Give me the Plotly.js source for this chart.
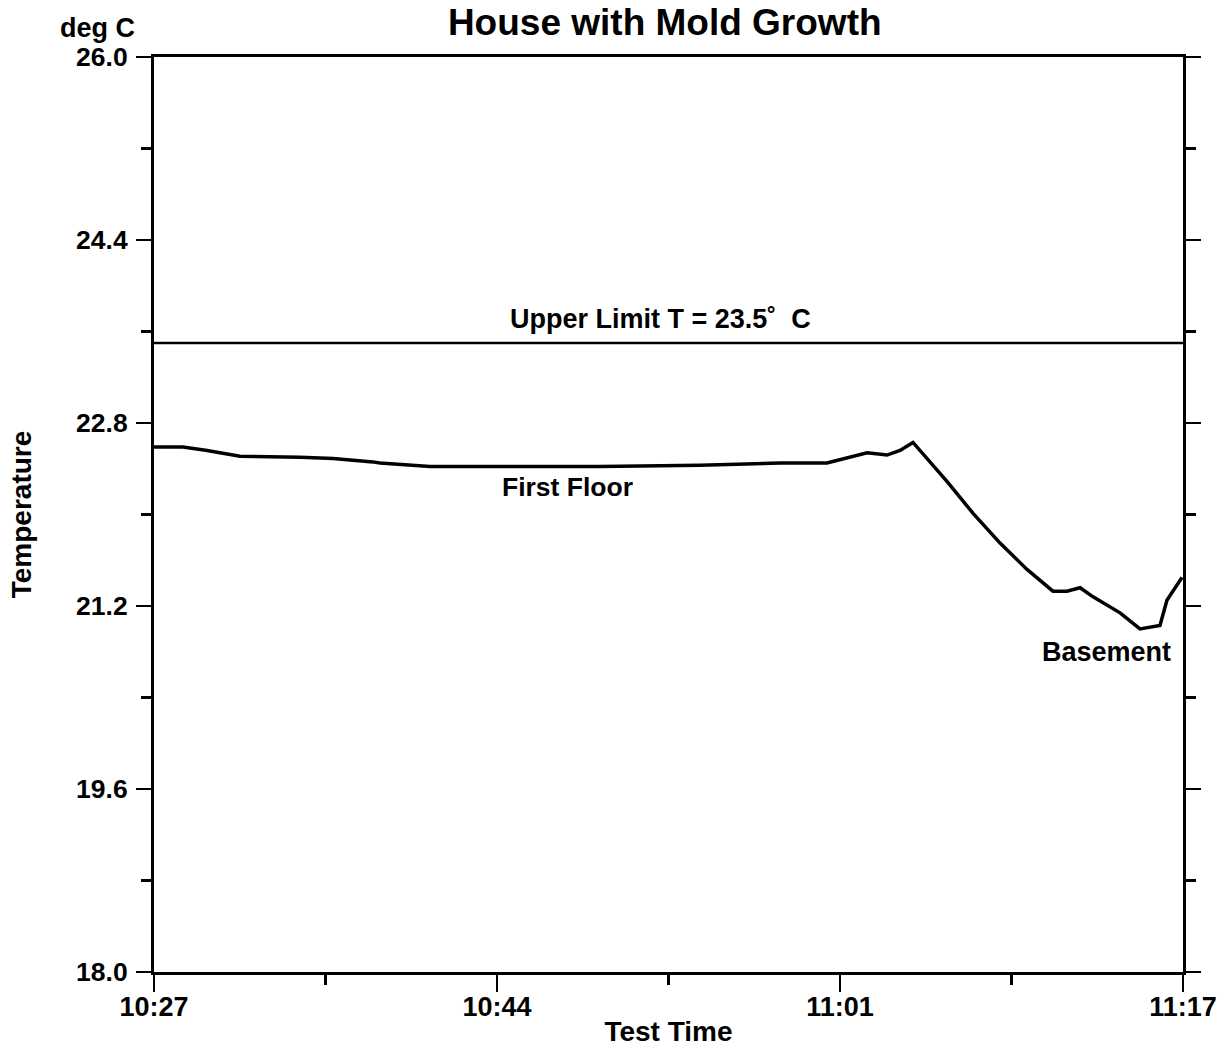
<!DOCTYPE html>
<html>
<head>
<meta charset="utf-8">
<script src="https://cdn.plot.ly/plotly-3.0.1.min.js"></script>
<style>html,body{margin:0;padding:0;background:#fff;}#chart{width:1231px;height:1047px;}</style>
</head>
<body>
<div id="chart"></div>
<script>
// Minutes elapsed since 10:27
var minutes = [0, 1.41, 2.58, 4.18, 7.09, 8.70, 10.64, 10.98, 13.41, 16.67, 21.67, 26.53, 30.42, 32.70, 34.65, 35.62, 36.25, 36.88, 38.53, 39.80, 41.11, 42.42, 43.68, 44.36, 45.00, 45.63, 46.94, 47.91, 48.88, 49.22, 49.95];
var temperature = [22.59, 22.59, 22.56, 22.51, 22.50, 22.49, 22.46, 22.45, 22.42, 22.42, 22.42, 22.43, 22.45, 22.45, 22.54, 22.52, 22.56, 22.63, 22.29, 22.01, 21.75, 21.52, 21.33, 21.33, 21.36, 21.28, 21.14, 21.00, 21.03, 21.25, 21.45];
var limitX = [0, 50];
var limitY = [23.5, 23.5];
var xTickVals = [0, 50/3, 100/3, 50];
var xTickText = ["10:27", "10:44", "11:01", "11:17"];
var xMinorVals = [25/3, 25, 125/3];

var F = "Arial, 'Liberation Sans', sans-serif";
var traces = [
  {x: minutes, y: temperature, type: "scatter", mode: "lines", line: {color: "#000", width: 3.5}, hoverinfo: "skip"},
  {x: limitX, y: limitY, type: "scatter", mode: "lines", line: {color: "#000", width: 2.5}, hoverinfo: "skip"}
];
var layout = {
  width: 1231, height: 1047,
  margin: {l: 154, r: 48, t: 57, b: 75},
  paper_bgcolor: "#fff", plot_bgcolor: "#fff",
  showlegend: false,
  font: {family: F, color: "#000"},
  title: {text: "House with Mold Growth", font: {family: F, size: 37, weight: "bold", color: "#000"}, x: 0.540, xref: "container", xanchor: "center", y: 0.979, yanchor: "middle", yref: "container"},
  xaxis: {
    range: [0, 50], showgrid: false, zeroline: false,
    showline: true, linecolor: "#000", linewidth: 3, mirror: true,
    tickmode: "array", tickvals: xTickVals, ticktext: xTickText,
    ticks: "outside", ticklen: 17, tickwidth: 2.5, tickcolor: "#000",
    minor: {tickmode: "array", tickvals: xMinorVals, ticks: "outside", ticklen: 10, tickwidth: 2.5, tickcolor: "#000"},
    tickfont: {family: F, size: 27, weight: "bold"},
    ticklabelstandoff: -8,
    title: {text: "Test Time", font: {family: F, size: 28, weight: "bold"}, standoff: 2}
  },
  yaxis: {
    range: [18, 26], showgrid: false, zeroline: false,
    showline: true, linecolor: "#000", linewidth: 3, mirror: "allticks",
    tickmode: "linear", tick0: 18, dtick: 1.6, tickformat: ".1f",
    ticks: "outside", ticklen: 15, tickwidth: 2.5, tickcolor: "#000",
    minor: {tick0: 18, dtick: 0.8, ticks: "outside", ticklen: 10, tickwidth: 2.5, tickcolor: "#000"},
    tickfont: {family: F, size: 26.5, weight: "bold"},
    ticklabelstandoff: 3,
    title: {text: "Temperature", font: {family: F, size: 28, weight: "bold"}, standoff: 37}
  },
  annotations: [
    {text: "deg C", xref: "paper", yref: "paper", x: (97-154)/1029, y: (972-28)/915, xanchor: "center", yanchor: "middle", showarrow: false, font: {family: F, size: 27, weight: "bold"}},
    {text: "Upper Limit T = 23.5\u02da  C", xref: "x", yref: "y", x: 24.6, y: 23.71, xanchor: "center", yanchor: "middle", showarrow: false, font: {family: F, size: 27, weight: "bold"}},
    {text: "First Floor", xref: "x", yref: "y", x: 20.1, y: 22.24, xanchor: "center", yanchor: "middle", showarrow: false, font: {family: F, size: 26.5, weight: "bold"}},
    {text: "Basement", xref: "x", yref: "y", x: 46.3, y: 20.80, xanchor: "center", yanchor: "middle", showarrow: false, font: {family: F, size: 27, weight: "bold"}}
  ]
};
Plotly.newPlot("chart", traces, layout, {displayModeBar: false, staticPlot: true});
</script>
</body>
</html>
